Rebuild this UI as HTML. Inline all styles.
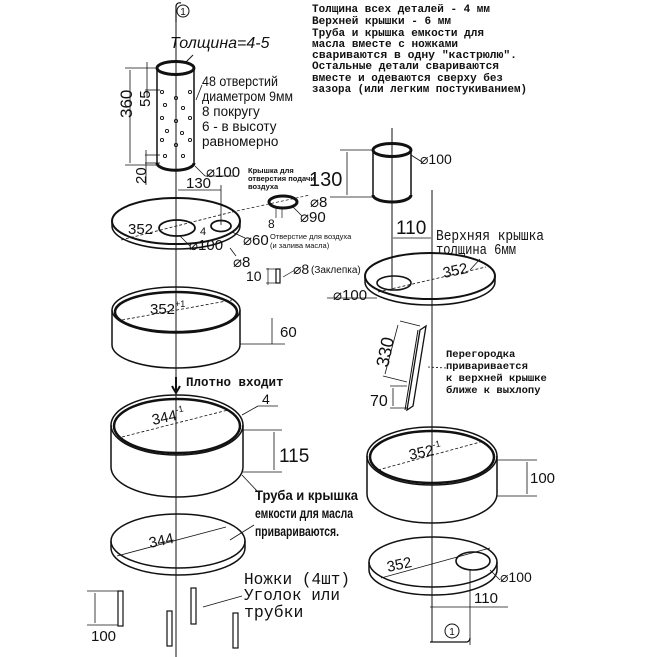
<!DOCTYPE html>
<html><head><meta charset="utf-8"><style>
html,body{margin:0;padding:0;background:#fff;width:671px;height:657px;overflow:hidden}
svg{display:block}
text{font-family:"Liberation Sans","DejaVu Sans",sans-serif;fill:#111}
.m{font-family:"Liberation Mono","DejaVu Sans Mono",monospace;font-weight:bold}
.n{font-family:"Liberation Mono","DejaVu Sans Mono",monospace}
.c{font-family:"Liberation Sans Narrow","Liberation Sans",sans-serif;font-weight:bold}
</style></head><body>
<svg width="671" height="657" viewBox="0 0 671 657" xmlns="http://www.w3.org/2000/svg" fill="none" stroke="#111">
<line x1="176" y1="5" x2="176" y2="657" stroke-width="1"/>
<line x1="392" y1="128" x2="392" y2="290" stroke-width="1"/>
<line x1="432" y1="190" x2="432" y2="642" stroke-width="1"/>
<path d="M176 22 L176 6 Q177 2 181 3" stroke-width="1.2"/>
<circle cx="183" cy="11" r="6" stroke-width="1"/>
<text x="183" y="15" font-size="10" text-anchor="middle" stroke="none">1</text>

<g font-size="11" stroke="none">
<text x="312" y="12" class="m" stroke="none" textLength="178" lengthAdjust="spacingAndGlyphs">Толщина всех деталей - 4 мм</text>
<text x="312" y="24" class="m" stroke="none" textLength="139" lengthAdjust="spacingAndGlyphs">Верхней крышки - 6 мм</text>
<text x="312" y="36" class="m" stroke="none" textLength="172" lengthAdjust="spacingAndGlyphs">Труба и крышка емкости для</text>
<text x="312" y="47" class="m" stroke="none" textLength="146" lengthAdjust="spacingAndGlyphs">масла вместе с ножками</text>
<text x="312" y="58" class="m" stroke="none" textLength="205" lengthAdjust="spacingAndGlyphs">свариваются в одну "кастрюлю".</text>
<text x="312" y="69" class="m" stroke="none" textLength="187" lengthAdjust="spacingAndGlyphs">Остальные детали свариваются</text>
<text x="312" y="81" class="m" stroke="none" textLength="191" lengthAdjust="spacingAndGlyphs">вместе и одеваются сверху без</text>
<text x="312" y="92" class="m" stroke="none" textLength="215" lengthAdjust="spacingAndGlyphs">зазора (или легким постукиванием)</text>
</g>

<text x="170" y="48" font-size="16" font-style="italic" stroke="none">Толщина=4-5</text>
<line x1="193" y1="55" x2="186" y2="62" stroke-width="1"/>
<path d="M157 68 V163 A18 7 0 0 0 194 163 V68" stroke-width="1.5"/>
<path d="M157 163 A18 7 0 0 0 194 163" stroke-width="3"/>
<ellipse cx="175.5" cy="68" rx="18.5" ry="6.5" stroke-width="3"/>
<g stroke-width="0.9">
<circle cx="162" cy="92" r="1.6"/><circle cx="176" cy="98" r="1.6"/><circle cx="190" cy="92" r="1.6"/>
<circle cx="165" cy="105" r="1.6"/><circle cx="183" cy="108" r="1.6"/>
<circle cx="162" cy="118" r="1.6"/><circle cx="176" cy="121" r="1.6"/><circle cx="190" cy="118" r="1.6"/>
<circle cx="167" cy="131" r="1.6"/><circle cx="182" cy="133" r="1.6"/>
<circle cx="162" cy="140" r="1.6"/><circle cx="176" cy="145" r="1.6"/><circle cx="190" cy="140" r="1.6"/>
<circle cx="165" cy="156" r="1.6"/><circle cx="183" cy="156" r="1.6"/>
</g>
<g stroke-width="0.8">
<line x1="125" y1="68" x2="157" y2="68"/><line x1="125" y1="165" x2="157" y2="165"/>
<line x1="130" y1="70" x2="130" y2="163"/>
<line x1="147" y1="62" x2="147" y2="98"/><line x1="145" y1="90" x2="160" y2="90"/>
<line x1="145" y1="155" x2="160" y2="155"/><line x1="145" y1="163" x2="160" y2="163"/>
<line x1="146" y1="150" x2="146" y2="185"/>
<line x1="196" y1="100" x2="202" y2="85"/>
<line x1="195" y1="166" x2="205" y2="176"/><line x1="205" y1="176" x2="234" y2="176"/>
</g>
<text transform="translate(132,118) rotate(-90)" font-size="17" stroke="none">360</text>
<text transform="translate(150,107) rotate(-90)" font-size="15" stroke="none">55</text>
<text transform="translate(146,184) rotate(-90)" font-size="15" stroke="none">20</text>
<g font-size="13.5" stroke="none">
<text x="202" y="86" stroke="none" textLength="76" lengthAdjust="spacingAndGlyphs">48 отверстий</text>
<text x="202" y="101" stroke="none" textLength="91" lengthAdjust="spacingAndGlyphs">диаметром 9мм</text>
<text x="202" y="116" stroke="none">8 покругу</text>
<text x="202" y="131" stroke="none">6 - в высоту</text>
<text x="202" y="146" stroke="none">равномерно</text>
</g>
<text x="206" y="177" font-size="15" stroke="none">⌀100</text>

<line x1="178" y1="190" x2="221" y2="190" stroke-width="0.8"/>
<line x1="221" y1="185" x2="221" y2="225" stroke-width="0.8"/>
<text x="186" y="188" font-size="15" stroke="none">130</text>
<path d="M112 221 V226 A64 23 0 0 0 240 226 V221" stroke-width="1.5"/>
<ellipse cx="176" cy="221" rx="64" ry="23" stroke-width="2"/>
<ellipse cx="177" cy="228" rx="18" ry="8" stroke-width="1.8"/>
<ellipse cx="221" cy="226" rx="10" ry="5.5" stroke-width="1.8"/>
<line x1="121" y1="240" x2="232" y2="212" stroke-width="0.8" stroke-dasharray="3 2"/>
<text x="128" y="234" font-size="15" stroke="none">352</text>
<text x="200" y="235" font-size="11" stroke="none">4</text>
<line x1="180" y1="236" x2="190" y2="246" stroke-width="0.8"/>
<text x="189" y="250" font-size="15" stroke="none">⌀100</text>
<line x1="232" y1="232" x2="245" y2="238" stroke-width="0.8"/>
<text x="243" y="245" font-size="15" stroke="none">⌀60</text>
<text x="270" y="239" font-size="7.5" stroke="none">Отверстие для воздуха</text>
<text x="270" y="248" font-size="7.5" stroke="none">(и залива масла)</text>
<line x1="230" y1="248" x2="236" y2="256" stroke-width="0.8"/>
<text x="233" y="267" font-size="15" stroke="none">⌀8</text>

<text x="248" y="173" font-size="7.5" class="c" stroke="none">Крышка для</text>
<text x="248" y="181" font-size="7.5" class="c" stroke="none">отверстия подачи</text>
<text x="248" y="189" font-size="7.5" class="c" stroke="none">воздуха</text>
<ellipse cx="283" cy="202" rx="14" ry="6" stroke-width="3"/>
<line x1="232" y1="212" x2="310" y2="195" stroke-width="0.7" stroke-dasharray="3 2"/>
<text x="310" y="207" font-size="15" stroke="none">⌀8</text>
<line x1="276" y1="208" x2="276" y2="218" stroke-width="0.7"/>
<line x1="282" y1="208" x2="282" y2="218" stroke-width="0.7"/>
<text x="268" y="228" font-size="12" stroke="none">8</text>
<line x1="293" y1="207" x2="302" y2="216" stroke-width="0.8"/>
<text x="300" y="222" font-size="15" stroke="none">⌀90</text>
<rect x="276" y="269" width="4" height="14" stroke-width="1.2"/>
<line x1="266" y1="269" x2="280" y2="269" stroke-width="0.7"/>
<line x1="266" y1="283" x2="280" y2="283" stroke-width="0.7"/>
<line x1="268" y1="268" x2="268" y2="285" stroke-width="0.7"/>
<text x="246" y="281" font-size="14" stroke="none">10</text>
<line x1="283" y1="277" x2="295" y2="270" stroke-width="0.7"/>
<text x="293" y="274" font-size="14" stroke="none">⌀8</text>
<text x="311" y="273" font-size="10" stroke="none">(Заклепка)</text>

<path d="M112 310 V345 A64 23 0 0 0 240 345 V310" stroke-width="1.5"/>
<ellipse cx="176" cy="310" rx="64" ry="23" stroke-width="1.5"/>
<ellipse cx="176" cy="312" rx="61" ry="20" stroke-width="2.5"/>
<line x1="122" y1="320" x2="232" y2="300" stroke-width="0.8" stroke-dasharray="3 2"/>
<text x="150" y="314" font-size="15" stroke="none">352<tspan font-size="9" dy="-7">+1</tspan></text>
<line x1="240" y1="344" x2="285" y2="344" stroke-width="0.8"/>
<line x1="272" y1="318" x2="272" y2="344" stroke-width="0.8"/>
<text x="280" y="337" font-size="15" stroke="none">60</text>

<path d="M176 377 V392 M172 386 L176 393 L180 386" stroke-width="2"/>
<text x="186" y="386" font-size="12.5" class="m" stroke="none">Плотно входит</text>

<path d="M111 425 V467 A66 30 0 0 0 243 467 V425" stroke-width="1.5"/>
<ellipse cx="177" cy="425" rx="66" ry="30" stroke-width="1.5"/>
<ellipse cx="177" cy="426" rx="63" ry="27" stroke-width="2.5"/>
<line x1="122" y1="437" x2="228" y2="410" stroke-width="0.8" stroke-dasharray="3 2"/>
<text transform="translate(153,425) rotate(-12)" font-size="15" stroke="none">344<tspan font-size="9" dy="-7">-1</tspan></text>
<line x1="242" y1="415" x2="258" y2="406" stroke-width="0.8"/>
<line x1="258" y1="406" x2="278" y2="406" stroke-width="0.8"/>
<text x="262" y="404" font-size="14" stroke="none">4</text>
<line x1="243" y1="430" x2="282" y2="430" stroke-width="0.8"/>
<line x1="243" y1="472" x2="282" y2="472" stroke-width="0.8"/>
<line x1="274" y1="432" x2="274" y2="470" stroke-width="0.8"/>
<text x="279" y="462" font-size="19" stroke="none">115</text>
<line x1="242" y1="475" x2="258" y2="492" stroke-width="0.8"/>
<g font-size="13.5" class="c" stroke="none">
<text x="255" y="500" class="c" stroke="none" textLength="103" lengthAdjust="spacingAndGlyphs">Труба и крышка</text>
<text x="255" y="518" class="c" stroke="none" textLength="98" lengthAdjust="spacingAndGlyphs">емкости для масла</text>
<text x="255" y="536" class="c" stroke="none" textLength="84" lengthAdjust="spacingAndGlyphs">привариваются.</text>
</g>
<line x1="254" y1="525" x2="230" y2="540" stroke-width="0.8"/>

<path d="M111 541 V548 A67 27 0 0 0 245 548 V541" stroke-width="1.5"/>
<ellipse cx="178" cy="541" rx="67" ry="27" stroke-width="1.5"/>
<line x1="117" y1="556" x2="226" y2="527" stroke-width="0.8"/>
<text transform="translate(150,548) rotate(-12)" font-size="15" stroke="none">344</text>

<rect x="118" y="591" width="5" height="35" stroke-width="1.2"/>
<rect x="191" y="588" width="5" height="36" stroke-width="1.2"/>
<rect x="167" y="611" width="5" height="35" stroke-width="1.2"/>
<rect x="233" y="613" width="5" height="35" stroke-width="1.2"/>
<line x1="87" y1="591" x2="118" y2="591" stroke-width="0.8"/>
<line x1="87" y1="625" x2="118" y2="625" stroke-width="0.8"/>
<line x1="95" y1="593" x2="95" y2="623" stroke-width="0.8"/>
<text x="91" y="641" font-size="15" stroke="none">100</text>
<line x1="242" y1="596" x2="203" y2="607" stroke-width="0.8"/>
<g font-size="16.5" stroke="none">
<text x="244" y="584" class="n" stroke="none" textLength="106" lengthAdjust="spacingAndGlyphs">Ножки (4шт)</text>
<text x="244" y="600" class="n" stroke="none" textLength="96" lengthAdjust="spacingAndGlyphs">Уголок или</text>
<text x="244" y="617" class="n" stroke="none">трубки</text>
</g>

<path d="M373 150 V195 A19 7 0 0 0 411 195 V150" stroke-width="1.5"/>
<path d="M373 195 A19 7 0 0 0 411 195" stroke-width="3"/>
<ellipse cx="392" cy="150" rx="19" ry="6.5" stroke-width="3"/>
<line x1="340" y1="150" x2="373" y2="150" stroke-width="0.8"/>
<line x1="330" y1="197" x2="373" y2="197" stroke-width="0.8"/>
<line x1="347" y1="152" x2="347" y2="195" stroke-width="0.8"/>
<text x="309" y="186" font-size="20" stroke="none">130</text>
<line x1="411" y1="155" x2="422" y2="162" stroke-width="0.8"/>
<text x="420" y="164" font-size="14" stroke="none">⌀100</text>
<line x1="393" y1="238" x2="431" y2="238" stroke-width="0.8"/>
<text x="396" y="234" font-size="19" stroke="none">110</text>
<text x="436" y="240" font-size="14.5" class="n" stroke="none" textLength="108" lengthAdjust="spacingAndGlyphs">Верхняя крышка</text>
<text x="436" y="254" font-size="14.5" class="n" stroke="none" textLength="80" lengthAdjust="spacingAndGlyphs">толщина 6мм</text>
<line x1="480" y1="259" x2="470" y2="270" stroke-width="0.8"/>

<path d="M365 276 V282 A65 23 0 0 0 495 282 V276" stroke-width="1.5"/>
<ellipse cx="430" cy="276" rx="65" ry="23" stroke-width="2"/>
<ellipse cx="394" cy="283" rx="17" ry="7" stroke-width="1.6"/>
<line x1="378" y1="292" x2="486" y2="267" stroke-width="0.8" stroke-dasharray="3 2"/>
<text transform="translate(444,278) rotate(-12)" font-size="15" stroke="none">352</text>
<line x1="327" y1="298" x2="377" y2="298" stroke-width="0.8"/>
<text x="333" y="300" font-size="15" stroke="none">⌀100</text>

<polygon points="420,330 426,326 413,406 407,410" stroke-width="1.3"/>
<line x1="418" y1="330" x2="405" y2="410" stroke-width="1"/>
<line x1="400" y1="321" x2="420" y2="326" stroke-width="0.7"/>
<line x1="383" y1="376" x2="407" y2="382" stroke-width="0.7"/>
<line x1="398" y1="325" x2="385" y2="374" stroke-width="0.8"/>
<line x1="390" y1="386" x2="407" y2="386" stroke-width="0.7"/>
<line x1="390" y1="408" x2="407" y2="408" stroke-width="0.7"/>
<line x1="393" y1="388" x2="393" y2="406" stroke-width="0.8"/>
<text transform="translate(388,368) rotate(-78)" font-size="18" stroke="none">330</text>
<text x="370" y="406" font-size="16" stroke="none">70</text>
<line x1="428" y1="367" x2="446" y2="368" stroke-width="0.8" stroke-dasharray="2 2"/>
<g font-size="10.5" stroke="none">
<text x="446" y="357" class="m" stroke="none">Перегородка</text>
<text x="446" y="369" class="m" stroke="none">приваривается</text>
<text x="446" y="381" class="m" stroke="none">к верхней крышке</text>
<text x="446" y="393" class="m" stroke="none">ближе к выхлопу</text>
</g>

<path d="M367 456 V494 A65 29 0 0 0 497 494 V456" stroke-width="1.5"/>
<ellipse cx="432" cy="456" rx="65" ry="29" stroke-width="1.5"/>
<ellipse cx="432" cy="457" rx="62" ry="26" stroke-width="2.5"/>
<line x1="378" y1="470" x2="484" y2="441" stroke-width="0.8" stroke-dasharray="3 2"/>
<text transform="translate(410,460) rotate(-12)" font-size="15" stroke="none">352<tspan font-size="9" dy="-7">-1</tspan></text>
<line x1="497" y1="460" x2="537" y2="460" stroke-width="0.8"/>
<line x1="497" y1="496" x2="537" y2="496" stroke-width="0.8"/>
<line x1="527" y1="462" x2="527" y2="494" stroke-width="0.8"/>
<text x="530" y="483" font-size="15" stroke="none">100</text>

<path d="M369 562 V570 A64 25 0 0 0 497 570 V562" stroke-width="1.5"/>
<ellipse cx="433" cy="562" rx="64" ry="25" stroke-width="1.5"/>
<ellipse cx="473" cy="561" rx="17" ry="9" stroke-width="1.6"/>
<line x1="381" y1="578" x2="490" y2="548" stroke-width="0.8"/>
<text transform="translate(388,572) rotate(-12)" font-size="15" stroke="none">352</text>
<line x1="470" y1="570" x2="470" y2="645" stroke-width="0.8"/>
<line x1="490" y1="570" x2="500" y2="580" stroke-width="0.8"/>
<text x="500" y="582" font-size="14" stroke="none">⌀100</text>
<line x1="430" y1="607" x2="508" y2="607" stroke-width="0.8"/>
<text x="474" y="603" font-size="15" stroke="none">110</text>
<circle cx="452" cy="631" r="7" stroke-width="1"/>
<text x="452" y="635" font-size="10" text-anchor="middle" stroke="none">1</text>
<path d="M430 642 H467 Q470 641 470 638" stroke-width="1.3"/>
</svg>
</body></html>
